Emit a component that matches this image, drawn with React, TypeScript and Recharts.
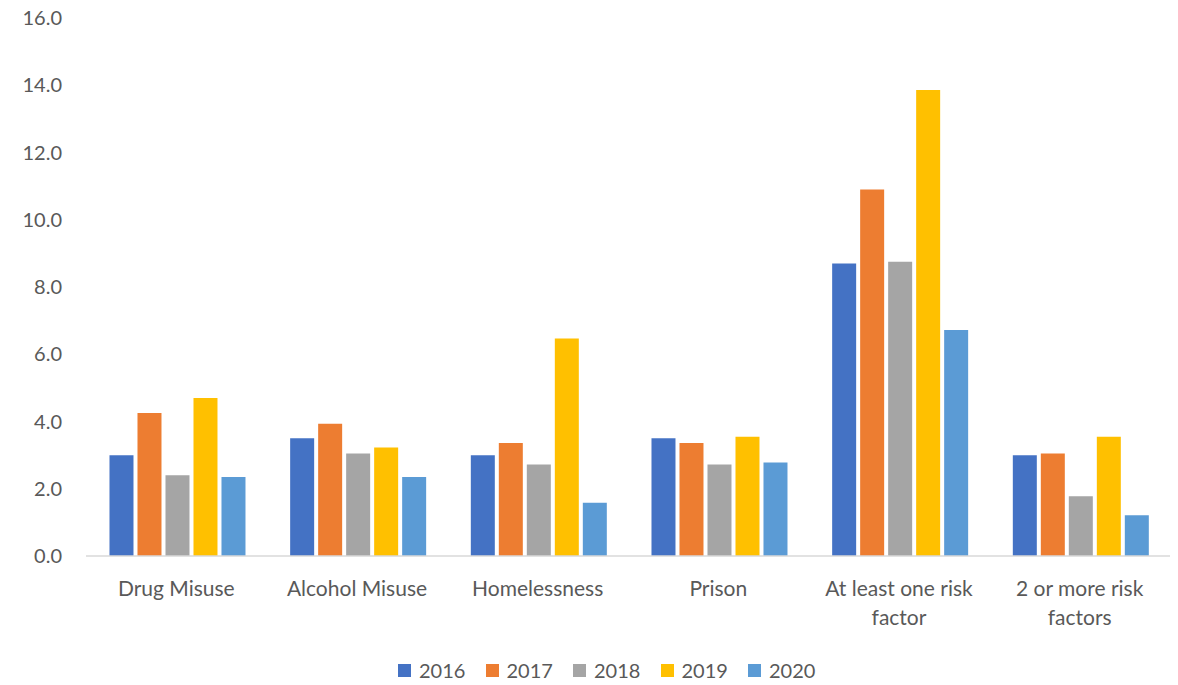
import { BarChart, Bar, XAxis, YAxis, Legend } from 'recharts';

const categories = [
  'Drug Misuse',
  'Alcohol Misuse',
  'Homelessness',
  'Prison',
  'At least one risk factor',
  '2 or more risk factors',
];

const years = ['2016', '2017', '2018', '2019', '2020'];
const colors = ['#4472C4', '#ED7D31', '#A5A5A5', '#FFC000', '#5B9BD5'];

const v2016 = [3.0, 3.5, 3.0, 3.5, 8.7, 3.0];
const v2017 = [4.25, 3.93, 3.36, 3.36, 10.9, 3.05];
const v2018 = [2.4, 3.05, 2.72, 2.72, 8.75, 1.78];
const v2019 = [4.7, 3.23, 6.47, 3.55, 13.86, 3.55];
const v2020 = [2.35, 2.35, 1.58, 2.78, 6.72, 1.21];

const yTicks = [0, 2, 4, 6, 8, 10, 12, 14, 16];

const series = [v2016, v2017, v2018, v2019, v2020];

const data = categories.map((name, i) => {
  const row: Record<string, string | number> = { name };
  years.forEach((y, j) => {
    row[y] = series[j][i];
  });
  return row;
});

const FONT = 'Lato, "Open Sans", sans-serif';
const TEXT = '#595959';

// wrap long category names onto two lines like the original
function wrap(label: string, max = 17) {
  const words = label.split(' ');
  const lines: string[] = [];
  let cur = '';
  words.forEach((w) => {
    const next = cur ? cur + ' ' + w : w;
    if (next.length > max && cur) {
      lines.push(cur);
      cur = w;
    } else {
      cur = next;
    }
  });
  if (cur) lines.push(cur);
  return lines;
}

function CategoryTick(props: any) {
  const { x, y, payload } = props;
  const lines = wrap(String(payload.value));
  return (
    <text x={x} y={y} textAnchor="middle" fill={TEXT} fontSize={21} fontFamily={FONT}>
      {lines.map((l, i) => (
        <tspan key={i} x={x} dy={i === 0 ? 40 : 29}>
          {l}
        </tspan>
      ))}
    </text>
  );
}

function LegendContent() {
  return (
    <div style={{ display: 'flex', fontFamily: FONT, fontSize: 20, color: TEXT, height: 24, alignItems: 'center' }}>
      {years.map((y, i) => (
        <div key={y} style={{ display: 'flex', alignItems: 'center', width: 87.5 }}>
          <span style={{ width: 13, height: 13, background: colors[i], display: 'inline-block', marginRight: 8 }} />
          <span>{y}</span>
        </div>
      ))}
    </div>
  );
}

export default function App() {
  return (
    <div style={{ position: 'absolute', left: 0, top: 0, background: '#fff' }}>
      <BarChart
        width={1178}
        height={685}
        data={data}
        margin={{ top: 18, right: 8, bottom: 0, left: 0 }}
        barCategoryGap="13%"
        barGap={4}
      >
        <XAxis
          dataKey="name"
          interval={0}
          tickLine={false}
          tickSize={0}
          tickMargin={0}
          axisLine={{ stroke: '#D9D9D9', strokeWidth: 1.5 }}
          tick={<CategoryTick />}
          height={105}
        />
        <YAxis
          domain={[0, 16]}
          ticks={yTicks}
          width={86}
          axisLine={false}
          tickLine={false}
          tickSize={0}
          tickMargin={24}
          tickFormatter={(v: number) => v.toFixed(1)}
          tick={{ fill: TEXT, fontSize: 20, fontFamily: FONT }}
        />
        <Legend
          verticalAlign="bottom"
          content={<LegendContent />}
          wrapperStyle={{ left: 398, top: 658, width: 440, height: 24 }}
        />
        {years.map((y, i) => (
          <Bar key={y} dataKey={y} fill={colors[i]} isAnimationActive={false} />
        ))}
      </BarChart>
    </div>
  );
}
